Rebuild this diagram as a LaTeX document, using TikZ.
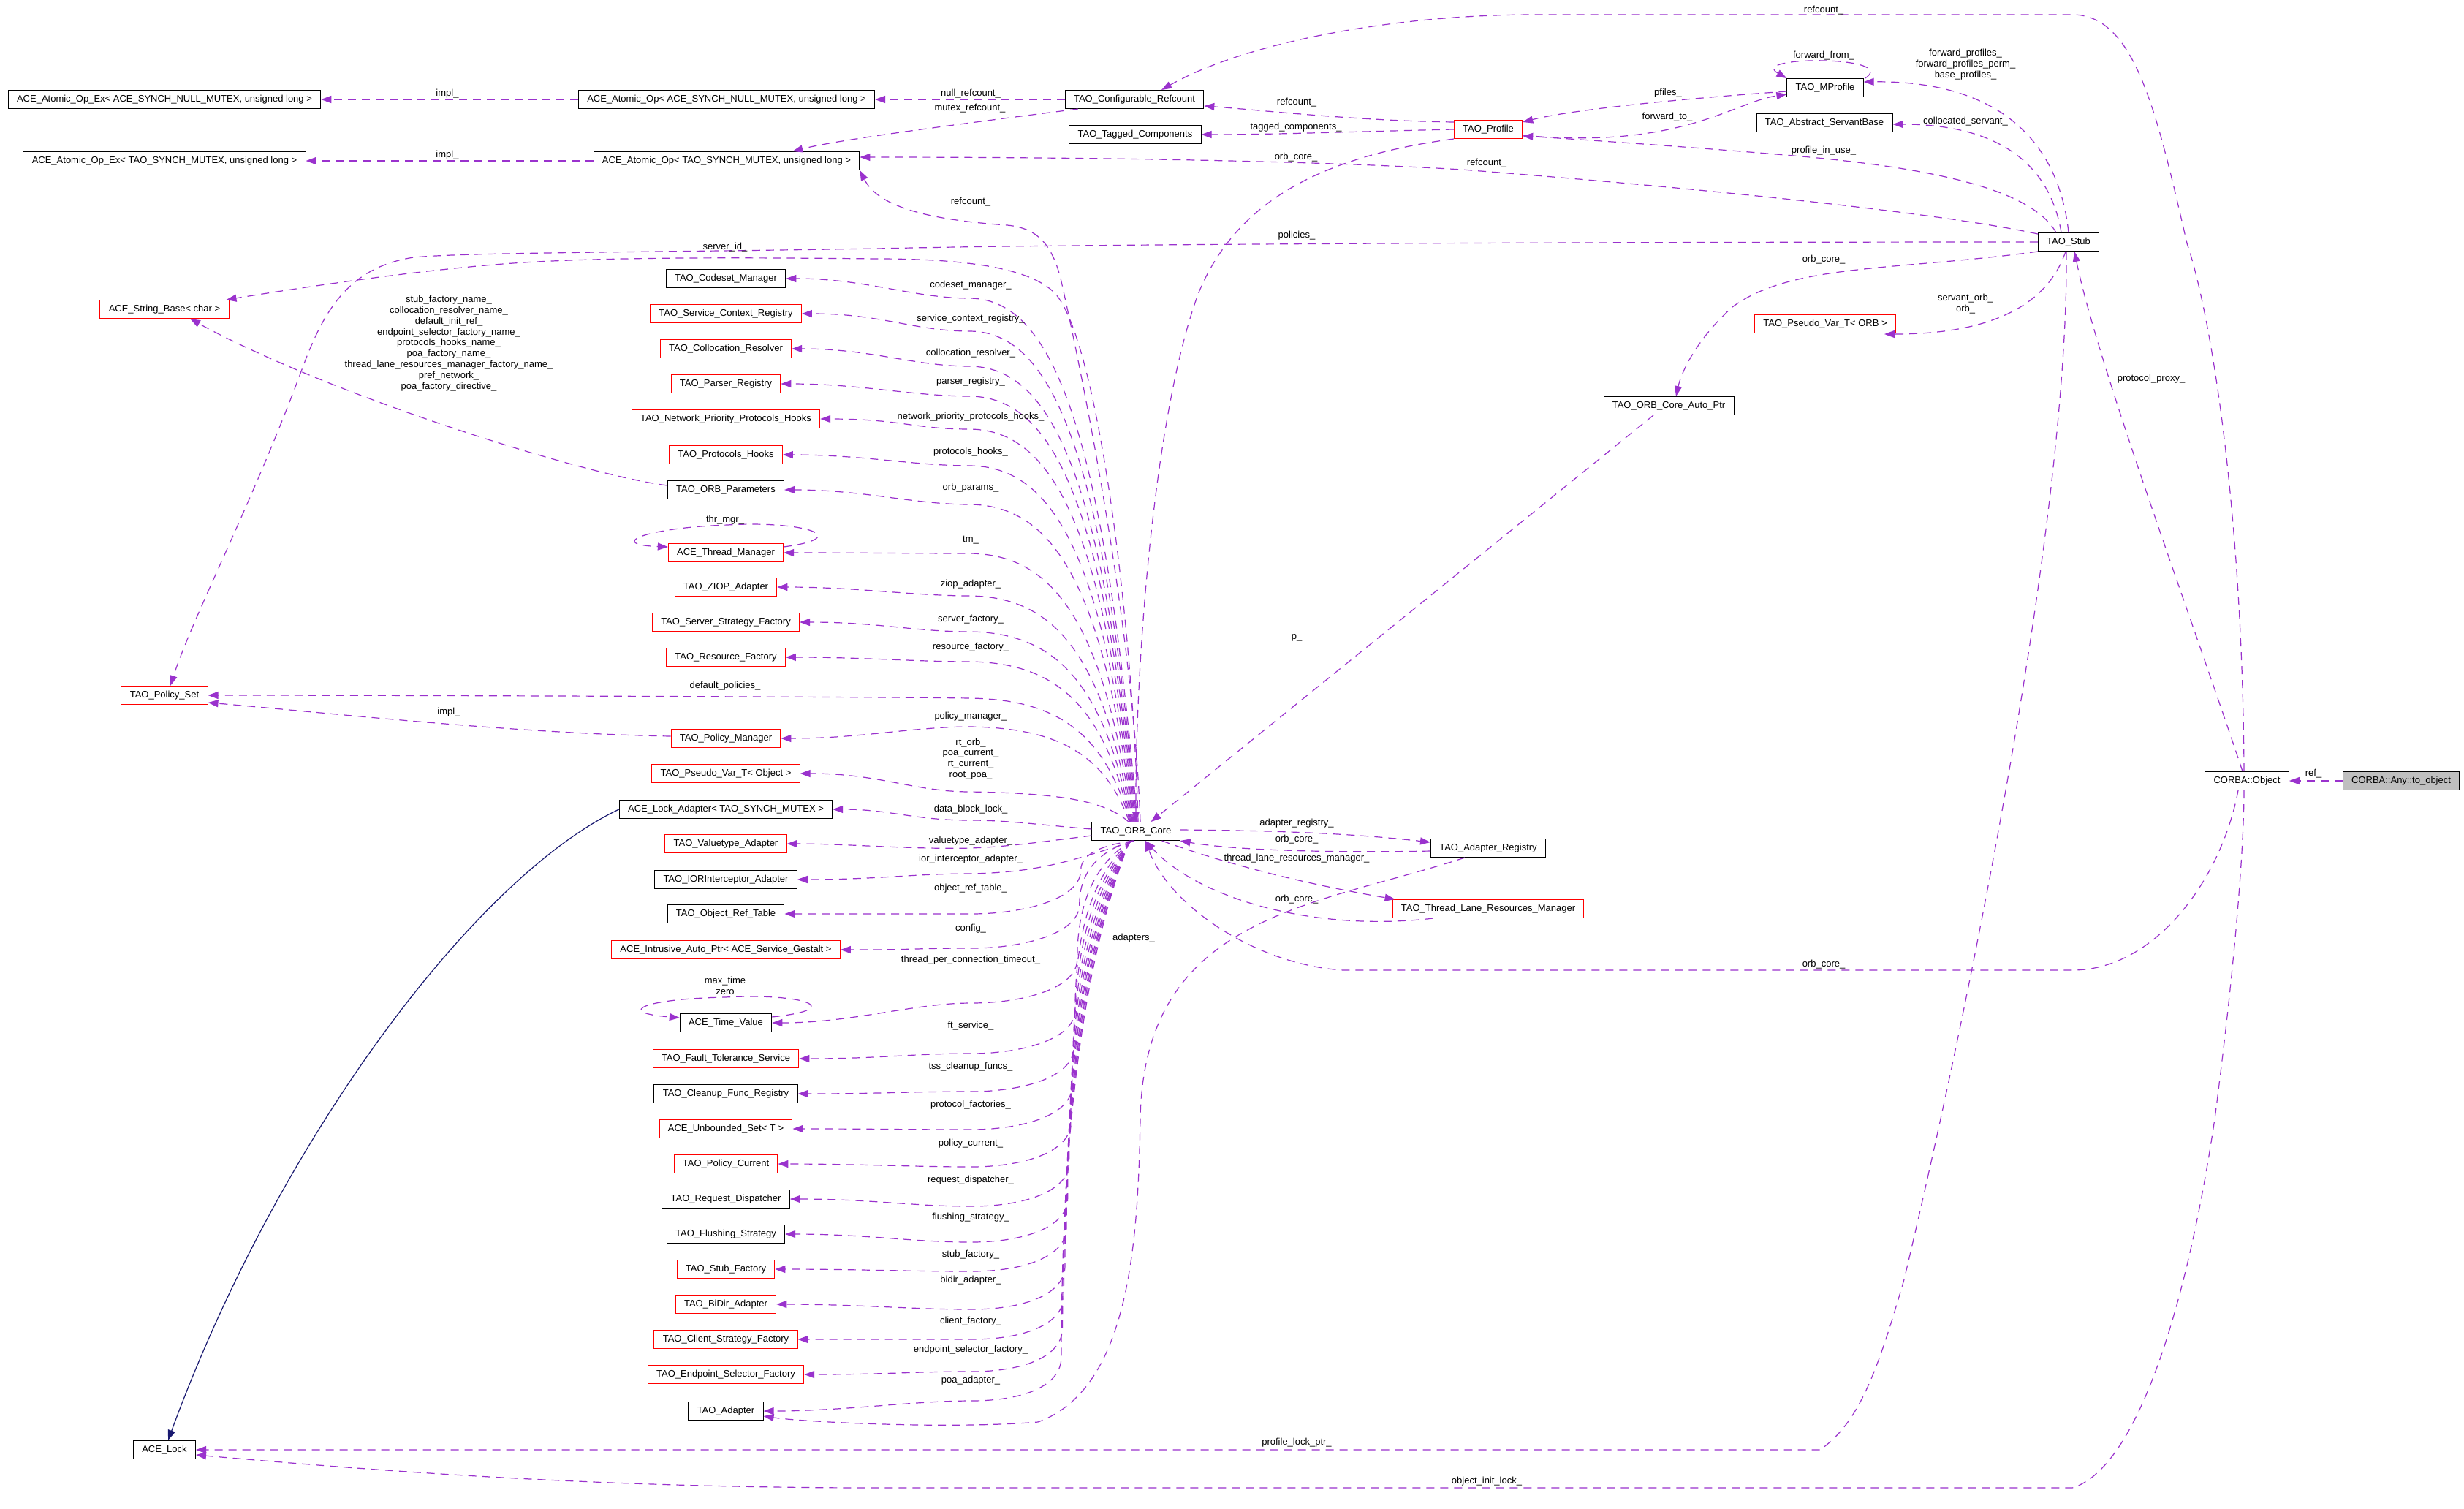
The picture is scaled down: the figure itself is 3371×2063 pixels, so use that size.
\documentclass[tikz,border=0pt]{standalone}
\usepackage{fontspec}
\setmainfont{Liberation Sans}
\usetikzlibrary{arrows.meta,calc}
\definecolor{edgecol}{HTML}{9A32CD}
\definecolor{inhcol}{HTML}{191970}
\definecolor{rootfill}{HTML}{BFBFBF}
\newcommand\dgfont{\fontsize{6.5}{7.4}\selectfont}
\newcommand\fanup[5]{%
  \pgfmathsetmacro\fcA{#2+2}%
  \pgfmathsetmacro\fcB{#2+0.25*(1124-#2)}%
  \draw[e] ($(core.north)+(#3,0)$) .. controls (1510,\fcB) and (1440,\fcA) .. (1328,#2) .. controls (1250,#2) and ($(#1.east)+(110,0)$) .. (#1.east);
  \node[lbl] at (1328,#4) {#5};
}
\newcommand\fandown[5]{%
  \pgfmathsetmacro\fcA{#2-2}%
  \pgfmathsetmacro\fcB{#2-0.35*(#2-1150)}%
  \draw[e] ($(core.south)+(#3,0)$) .. controls (1460,\fcB) and (1420,\fcA) .. (1328,#2) .. controls (1250,#2) and ($(#1.east)+(110,0)$) .. (#1.east);
  \node[lbl] at (1328,#4) {#5};
}
\newcommand\fanlow[5]{%
  \pgfmathsetmacro\fcX{1452+0.04*(1916-#2)}%
  \pgfmathsetmacro\fcP{#2-60}%
  \pgfmathsetmacro\fcA{1150+0.1*(#2-1210)}%
  \pgfmathsetmacro\fcB{1150+0.35*(#2-1210)}%
  \pgfmathsetmacro\fcC{#2-20}%
  \draw[e] ($(core.south)+(#3,0)$) .. controls (1520,\fcA) and (\fcX,\fcB) .. (\fcX,\fcP) .. controls (\fcX,\fcC) and (1400,#2) .. (1328,#2) .. controls (1250,#2) and ($(#1.east)+(110,0)$) .. (#1.east);
  \node[lbl] at (1328,#4) {#5};
}
\begin{document}
\begin{tikzpicture}[x=0.5pt,y=-0.5pt,
  cls/.style={draw=black,line width=0.5pt,fill=white,minimum height=12.5pt,inner xsep=5.9pt,inner ysep=0pt,font=\dgfont},
  rcls/.style={cls,draw=red},
  lbl/.style={font=\dgfont,inner sep=0pt,align=center},
  e/.style={draw=edgecol,line width=0.6pt,dash pattern=on 5.5pt off 4pt,-{Triangle[length=7pt,width=5pt]}},
  inh/.style={draw=inhcol,line width=0.6pt,-{Triangle[length=7pt,width=5pt]}}]
\fill[white] (0,0) rectangle (3371,2063);
\useasboundingbox (0,0) rectangle (3371,2063);

% ---------- nodes ----------
\node[cls] (aoexN) at (225,136) {ACE\_Atomic\_Op\_Ex< ACE\_SYNCH\_NULL\_MUTEX, unsigned long >};
\node[cls] (aoexT) at (225,220) {ACE\_Atomic\_Op\_Ex< TAO\_SYNCH\_MUTEX, unsigned long >};
\node[cls] (aoN) at (994,136) {ACE\_Atomic\_Op< ACE\_SYNCH\_NULL\_MUTEX, unsigned long >};
\node[cls] (aoT) at (994,220) {ACE\_Atomic\_Op< TAO\_SYNCH\_MUTEX, unsigned long >};
\node[cls] (cref) at (1552,136) {TAO\_Configurable\_Refcount};
\node[cls] (tagged) at (1553,184) {TAO\_Tagged\_Components};
\node[rcls] (profile) at (2036,177) {TAO\_Profile};
\node[cls] (mprofile) at (2497,120) {TAO\_MProfile};
\node[cls] (asb) at (2496,168) {TAO\_Abstract\_ServantBase};
\node[cls] (stub) at (2830,331) {TAO\_Stub};
\node[rcls] (pvtorb) at (2497,443) {TAO\_Pseudo\_Var\_T< ORB >};
\node[cls] (autoptr) at (2283,555) {TAO\_ORB\_Core\_Auto\_Ptr};
\node[cls] (object) at (3074,1068) {CORBA::Object};
\node[cls,fill=rootfill] (anyobj) at (3285,1068) {CORBA::Any::to\_object};
\node[cls] (core) at (1554,1137) {TAO\_ORB\_Core};
\node[cls] (areg) at (2036,1160) {TAO\_Adapter\_Registry};
\node[rcls] (tlrm) at (2036,1243) {TAO\_Thread\_Lane\_Resources\_Manager};
\node[rcls] (strbase) at (225,423) {ACE\_String\_Base< char >};
\node[rcls] (pset) at (225,951) {TAO\_Policy\_Set};
\node[cls] (acelock) at (225,1983) {ACE\_Lock};

\node[cls] (codeset) at (993,381) {TAO\_Codeset\_Manager};
\node[rcls] (scr) at (993,429) {TAO\_Service\_Context\_Registry};
\node[rcls] (colres) at (993,477) {TAO\_Collocation\_Resolver};
\node[rcls] (preg) at (993,525) {TAO\_Parser\_Registry};
\node[rcls] (npph) at (993,573) {TAO\_Network\_Priority\_Protocols\_Hooks};
\node[rcls] (phooks) at (993,622) {TAO\_Protocols\_Hooks};
\node[cls] (orbp) at (993,670) {TAO\_ORB\_Parameters};
\node[rcls] (thrmgr) at (993,756) {ACE\_Thread\_Manager};
\node[rcls] (ziop) at (993,803) {TAO\_ZIOP\_Adapter};
\node[rcls] (ssf) at (993,851) {TAO\_Server\_Strategy\_Factory};
\node[rcls] (rfac) at (993,899) {TAO\_Resource\_Factory};
\node[rcls] (pmgr) at (993,1010) {TAO\_Policy\_Manager};
\node[rcls] (pvtobj) at (993,1058) {TAO\_Pseudo\_Var\_T< Object >};
\node[cls] (lockad) at (993,1107) {ACE\_Lock\_Adapter< TAO\_SYNCH\_MUTEX >};
\node[rcls] (vta) at (993,1154) {TAO\_Valuetype\_Adapter};
\node[cls] (iori) at (993,1203) {TAO\_IORInterceptor\_Adapter};
\node[cls] (ort) at (993,1250) {TAO\_Object\_Ref\_Table};
\node[rcls] (iap) at (993,1299) {ACE\_Intrusive\_Auto\_Ptr< ACE\_Service\_Gestalt >};
\node[cls] (tval) at (993,1399) {ACE\_Time\_Value};
\node[rcls] (fts) at (993,1448) {TAO\_Fault\_Tolerance\_Service};
\node[cls] (cfr) at (993,1496) {TAO\_Cleanup\_Func\_Registry};
\node[rcls] (ubs) at (993,1544) {ACE\_Unbounded\_Set< T >};
\node[rcls] (pcur) at (993,1592) {TAO\_Policy\_Current};
\node[cls] (rdisp) at (993,1640) {TAO\_Request\_Dispatcher};
\node[cls] (fstrat) at (993,1688) {TAO\_Flushing\_Strategy};
\node[rcls] (sfac) at (993,1736) {TAO\_Stub\_Factory};
\node[rcls] (bidir) at (993,1784) {TAO\_BiDir\_Adapter};
\node[rcls] (csf) at (993,1832) {TAO\_Client\_Strategy\_Factory};
\node[rcls] (esf) at (993,1880) {TAO\_Endpoint\_Selector\_Factory};
\node[cls] (tadapter) at (993,1930) {TAO\_Adapter};

% ---------- top area ----------
\draw[e] (aoN.west) -- (aoexN.east);
\node[lbl] at (612,128) {impl\_};
\draw[e] (aoT.west) -- (aoexT.east);
\node[lbl] at (612,212) {impl\_};
\draw[e] (cref.west) -- (aoN.east);
\node[lbl] at (1328,128) {null\_refcount\_};
\draw[e] ($(cref.south west)+(18,0)$) .. controls (1350,165) and (1150,190) .. ($(aoT.north east)+(-92,0)$);
\node[lbl] at (1327,148) {mutex\_refcount\_};
\draw[e] ($(core.north)+(6,0)$) .. controls (1552,900) and (1500,600) .. (1452,385) .. controls (1440,335) and (1420,312) .. (1378,308) .. controls (1260,300) and (1200,280) .. (aoT.south east);
\node[lbl] at (1328,276) {refcount\_};
\draw[e] ($(stub.north west)+(0,2)$) .. controls (2650,290) and (2300,255) .. (2000,232) .. controls (1800,220) and (1500,215) .. ($(aoT.east)+(0,-5)$);
\node[lbl] at (2034,223) {refcount\_};
\draw[e] ($(object.north)+(-4,0)$) .. controls (3068,700) and (3025,430) .. (2992,333) .. controls (2950,150) and (2920,20) .. (2835,20) -- (2100,20) .. controls (1900,20) and (1700,60) .. ($(cref.north)+(37,0)$);
\node[lbl] at (2495,14) {refcount\_};
\draw[e] ($(profile.west)+(0,-10)$) .. controls (1850,165) and (1720,150) .. ($(cref.east)+(0,9)$);
\node[lbl] at (1774,140) {refcount\_};
\draw[e] (profile.west) .. controls (1850,180) and (1750,184) .. (tagged.east);
\node[lbl] at (1773,174) {tagged\_components\_};
\draw[e] (profile.south west) .. controls (1800,215) and (1690,280) .. (1640,400) .. controls (1580,560) and (1553,900) .. (core.north);
\node[lbl] at (1773,215) {orb\_core\_};
\draw[e] ($(mprofile.west)+(0,5)$) .. controls (2300,135) and (2150,150) .. ($(profile.north east)+(0,3)$);
\node[lbl] at (2282,127) {pfiles\_};
\draw[e] ($(profile.east)+(0,8)$) .. controls (2300,205) and (2370,140) .. ($(mprofile.south west)+(0,-4)$);
\node[lbl] at (2281,160) {forward\_to\_};
\draw[e] ($(mprofile.north east)+(2,0)$) .. controls (2600,76) and (2390,76) .. (mprofile.north west);
\node[lbl] at (2495,76) {forward\_from\_};
\draw[e] (stub.north) .. controls (2815,180) and (2720,110) .. ($(mprofile.east)+(0,-8)$);
\node[lbl] at (2689,88) {forward\_profiles\_\\forward\_profiles\_perm\_\\base\_profiles\_};
\draw[e] ($(stub.north)+(-10,0)$) .. controls (2800,200) and (2700,170) .. ($(asb.east)+(0,2)$);
\node[lbl] at (2689,166) {collocated\_servant\_};
\draw[e] ($(stub.north west)+(25,0)$) .. controls (2780,260) and (2650,230) .. (2454,213) .. controls (2300,200) and (2150,190) .. ($(profile.south east)+(0,-4)$);
\node[lbl] at (2495,206) {profile\_in\_use\_};
\draw[e] (stub.west) .. controls (2300,331) and (1500,333) .. (1200,340) .. controls (900,345) and (640,345) .. (566,352) .. controls (480,365) and (445,420) .. (415,500) .. controls (345,690) and (265,840) .. ($(pset.north)+(8,0)$);
\node[lbl] at (1774,322) {policies\_};
\draw[e] ($(core.north)+(3,0)$) .. controls (1550,850) and (1500,450) .. (1440,398) .. controls (1400,362) and (1300,354) .. (1200,354) .. controls (1000,352) and (850,352) .. (734,358) .. controls (600,365) and (420,392) .. ($(strbase.north east)+(-4,0)$);
\node[lbl] at (992,338) {server\_id\_};
\draw[e] ($(orbp.west)+(0,-6)$) .. controls (800,650) and (450,540) .. ($(strbase.south)+(35,0)$);
\node[lbl] at (614,469.5) {stub\_factory\_name\_\\collocation\_resolver\_name\_\\default\_init\_ref\_\\endpoint\_selector\_factory\_name\_\\protocols\_hooks\_name\_\\poa\_factory\_name\_\\thread\_lane\_resources\_manager\_factory\_name\_\\pref\_network\_\\poa\_factory\_directive\_};
\draw[e] ($(pmgr.west)+(0,-3)$) .. controls (700,1003) and (450,975) .. ($(pset.east)+(0,10)$);
\node[lbl] at (614,974) {impl\_};

% ---------- self loops ----------
\draw[e] ($(thrmgr.east)+(0,-8)$) .. controls (1170,735) and (1100,712) .. (995,718) .. controls (880,722) and (830,745) .. ($(thrmgr.west)+(0,-8)$);
\node[lbl] at (992,711) {thr\_mgr\_};
\draw[e] ($(tval.east)+(0,-8)$) .. controls (1160,1380) and (1100,1358) .. (992,1364) .. controls (880,1366) and (840,1385) .. ($(tval.west)+(0,-7)$);
\node[lbl] at (992,1348.5) {max\_time\\zero};

% ---------- fan from ORB core ----------
\fanup{codeset}{408}{2}{390}{codeset\_manager\_}
\fanup{scr}{453}{1}{436}{service\_context\_registry\_}
\fanup{colres}{501}{0}{483}{collocation\_resolver\_}
\fanup{preg}{542}{-1}{522}{parser\_registry\_}
\fanup{npph}{587}{-2}{570}{network\_priority\_protocols\_hooks\_}
\fanup{phooks}{637}{-3}{618}{protocols\_hooks\_}
\fanup{orbp}{690}{-4}{667}{orb\_params\_}
\fanup{thrmgr}{757}{-5}{739}{tm\_}
\fanup{ziop}{815}{-6}{799}{ziop\_adapter\_}
\fanup{ssf}{864}{-7}{847}{server\_factory\_}
\fanup{rfac}{905}{-8}{885}{resource\_factory\_}
\draw[e] ($(core.north)+(-8,0)$) .. controls (1510,997) and (1440,957) .. (1328,955) .. controls (1200,953) and (500,951) .. (pset.east);
\node[lbl] at (992,938) {default\_policies\_};
\fanup{pmgr}{994}{-9}{980}{policy\_manager\_}
\fanup{pvtobj}{1083}{-10}{1038}{rt\_orb\_\\poa\_current\_\\rt\_current\_\\root\_poa\_}
\draw[e] ($(core.west)+(0,-3)$) .. controls (1420,1128) and (1380,1122) .. (1328,1122) .. controls (1250,1122) and ($(lockad.east)+(80,0)$) .. (lockad.east);
\node[lbl] at (1328,1107) {data\_block\_lock\_};
\draw[e] ($(core.west)+(0,6)$) .. controls (1420,1152) and (1380,1158) .. (1328,1160) .. controls (1250,1162) and ($(vta.east)+(80,0)$) .. (vta.east);
\node[lbl] at (1328,1150) {valuetype\_adapter\_};
\fandown{iori}{1195}{-2}{1175}{ior\_interceptor\_adapter\_}
\fanlow{ort}{1250}{-3}{1215}{object\_ref\_table\_}
\fanlow{iap}{1297}{-4}{1270}{config\_}
\fanlow{tval}{1372}{-5}{1313}{thread\_per\_connection\_timeout\_}
\fanlow{fts}{1441}{-6}{1403}{ft\_service\_}
\fanlow{cfr}{1493}{-6}{1459}{tss\_cleanup\_funcs\_}
\fanlow{ubs}{1545}{-7}{1511}{protocol\_factories\_}
\fanlow{pcur}{1596}{-7}{1564}{policy\_current\_}
\fanlow{rdisp}{1650}{-8}{1614}{request\_dispatcher\_}
\fanlow{fstrat}{1699}{-8}{1665}{flushing\_strategy\_}
\fanlow{sfac}{1739}{-8}{1716}{stub\_factory\_}
\fanlow{bidir}{1791}{-8}{1751}{bidir\_adapter\_}
\fanlow{csf}{1832}{-9}{1807}{client\_factory\_}
\fanlow{esf}{1876}{-9}{1846}{endpoint\_selector\_factory\_}
\fanlow{tadapter}{1916}{-9}{1888}{poa\_adapter\_}

% ---------- inheritance ----------
\draw[inh] (lockad.west) .. controls (650,1200) and (380,1560) .. ($(acelock.north)+(5,0)$);

% ---------- right area ----------
\draw[e] ($(core.east)+(0,-2)$) .. controls (1750,1136) and (1850,1140) .. ($(areg.west)+(0,-8)$);
\node[lbl] at (1774,1126) {adapter\_registry\_};
\draw[e] ($(areg.west)+(0,4)$) .. controls (1850,1166) and (1700,1165) .. (core.south east);
\node[lbl] at (1774,1148) {orb\_core\_};
\draw[e] ($(core.south east)+(-25,0)$) .. controls (1700,1190) and (1820,1215) .. ($(tlrm.north west)+(4,0)$);
\node[lbl] at (1774,1174) {thread\_lane\_resources\_manager\_};
\draw[e] ($(tlrm.south west)+(56,0)$) .. controls (1800,1275) and (1640,1230) .. ($(core.south)+(13,0)$);
\node[lbl] at (1774,1230) {orb\_core\_};
\draw[e] ($(areg.south west)+(47,0)$) .. controls (1800,1240) and (1565,1250) .. (1560,1530) .. controls (1557,1700) and (1545,1900) .. (1420,1945) .. controls (1300,1955) and (1100,1945) .. ($(tadapter.east)+(0,7)$);
\node[lbl] at (1551,1283) {adapters\_};

\draw[e] ($(autoptr.south)+(-21,0)$) -- ($(core.north east)+(-40,0)$);
\node[lbl] at (1774,872) {p\_};
\draw[e] (stub.south west) .. controls (2600,370) and (2450,360) .. (2370,420) .. controls (2320,465) and (2300,510) .. ($(autoptr.north)+(10,0)$);
\node[lbl] at (2495,355) {orb\_core\_};
\draw[e] ($(stub.south)+(-4,0)$) .. controls (2800,420) and (2720,457) .. ($(pvtorb.south east)+(-16,1)$);
\node[lbl] at (2689,415.5) {servant\_orb\_\\orb\_};

\draw[e] ($(stub.south)+(-3,0)$) .. controls (2830,700) and (2700,1350) .. (2605,1750) .. controls (2570,1870) and (2545,1945) .. (2490,1983) -- (acelock.east);
\node[lbl] at (1774,1973) {profile\_lock\_ptr\_};
\draw[e] ($(object.south)+(-4,0)$) .. controls (3070,1150) and (3060,1300) .. (3030,1530) .. controls (2990,1800) and (2920,2010) .. (2835,2035) -- (1200,2035) .. controls (800,2035) and (500,2010) .. ($(acelock.east)+(0,7)$);
\node[lbl] at (2034,2026) {object\_init\_lock\_};
\draw[e] ($(object.south)+(-12,0)$) .. controls (3040,1200) and (2950,1327) .. (2835,1327) -- (1838,1327) .. controls (1720,1320) and (1600,1240) .. ($(core.south)+(13,0)$);
\node[lbl] at (2495,1319) {orb\_core\_};
\draw[e] ($(object.north)+(-6,0)$) .. controls (3000,850) and (2870,500) .. ($(stub.south)+(8,0)$);
\node[lbl] at (2943,518) {protocol\_proxy\_};
\draw[e] (anyobj.west) -- (object.east);
\node[lbl] at (3165,1058) {ref\_};
\end{tikzpicture}
\end{document}
